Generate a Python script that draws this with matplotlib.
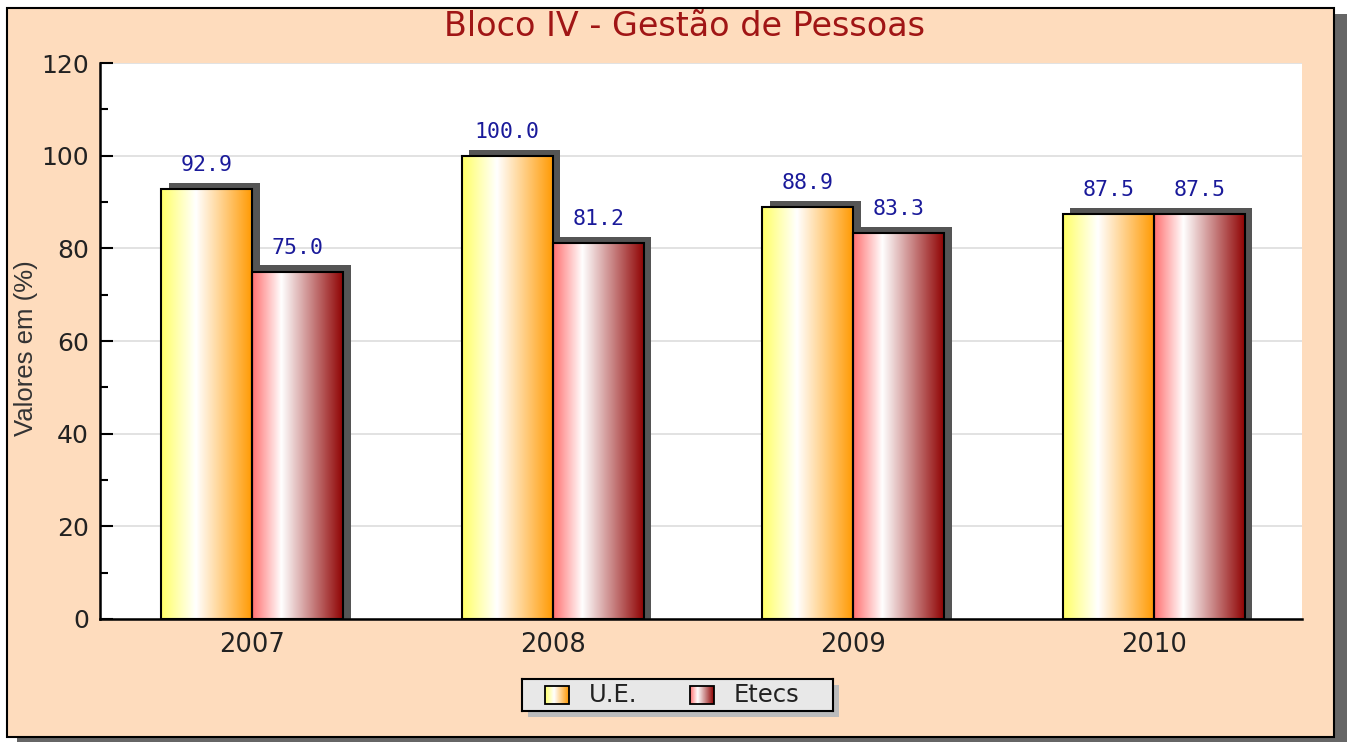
import numpy as np
import matplotlib.pyplot as plt
from matplotlib.patches import Rectangle
from matplotlib.colors import LinearSegmentedColormap

# Datos del gráfico
anos = ['2007', '2008', '2009', '2010']
series = ['U.E.', 'Etecs']
valores_ue = [92.9, 100.0, 88.9, 87.5]
valores_etecs = [75.0, 81.2, 83.3, 87.5]
titulo = 'Bloco IV - Gestão de Pessoas'
etiqueta_y = 'Valores em (%)'

W, H = 1347, 742
fig = plt.figure(figsize=(W / 100, H / 100), dpi=100)
fig.patch.set_facecolor('white')


def px(x, y, w, h):
    # pasar de píxeles (origen arriba-izquierda) a coordenadas de figura
    return (x / W, 1 - (y + h) / H, w / W, h / H)


# Panel de fondo con sombra
x0, y0, w0, h0 = px(17, 14, 1330, 728)
fig.patches.append(Rectangle((x0, y0), w0, h0, transform=fig.transFigure,
                             facecolor='#666666', edgecolor='none', zorder=-3))
x0, y0, w0, h0 = px(7, 8, 1327, 729)
fig.patches.append(Rectangle((x0, y0), w0, h0, transform=fig.transFigure,
                             facecolor='#fedcbd', edgecolor='black', linewidth=1.5, zorder=-2))

fig.text(684 / W, 1 - 27 / H, titulo, ha='center', va='center',
         fontsize=24, color='#a01515', family='DejaVu Sans')

ax = fig.add_axes(px(100, 63, 1202, 556))
ax.set_facecolor('white')

cmap_ue = LinearSegmentedColormap.from_list(
    'ue', [(0, '#ffff66'), (0.38, '#ffffff'), (1, '#ff9900')])
cmap_etecs = LinearSegmentedColormap.from_list(
    'et', [(0, '#ff7070'), (0.32, '#ffffff'), (1, '#8e0000')])
grad = np.linspace(0, 1, 256).reshape(1, -1)

ancho = 0.303
dx, dy = 0.024, 1.3
x = np.arange(len(anos))

for vals, desplaz, cmap in [(valores_ue, -ancho, cmap_ue), (valores_etecs, 0, cmap_etecs)]:
    for xi, v in zip(x, vals):
        izq = xi + desplaz
        # sombra
        ax.add_patch(Rectangle((izq + dx, 0), ancho, v + dy, facecolor='#555555',
                               edgecolor='none', zorder=2))
for vals, desplaz, cmap in [(valores_ue, -ancho, cmap_ue), (valores_etecs, 0, cmap_etecs)]:
    for xi, v in zip(x, vals):
        izq = xi + desplaz
        ax.imshow(grad, cmap=cmap, aspect='auto', extent=(izq, izq + ancho, 0, v),
                  zorder=3, interpolation='bilinear')
        ax.add_patch(Rectangle((izq, 0), ancho, v, facecolor='none',
                               edgecolor='black', linewidth=1.5, zorder=4))
        ax.annotate(f'{v:.1f}', (izq + ancho / 2, v), xytext=(0, 10),
                    textcoords='offset points', ha='center', va='bottom',
                    fontsize=15.5, color='#1a1a9a', family='DejaVu Sans Mono')

ax.set_xlim(-0.507, 3.493)
ax.set_ylim(0, 120)
ax.set_xticks(x)
ax.set_xticklabels(anos)
ax.set_yticks(np.arange(0, 121, 20))
ax.set_yticks(np.arange(10, 120, 20), minor=True)
ax.tick_params(axis='x', length=0, pad=9, labelsize=18.5, colors='#222222')
ax.tick_params(axis='y', which='major', direction='in', length=9, width=1.5,
               pad=8, labelsize=18, labelcolor='#222222')
ax.tick_params(axis='y', which='minor', direction='in', length=6, width=1.5)
ax.grid(axis='y', color='#dddddd', linewidth=1.2, zorder=0)
ax.set_axisbelow(True)
for s in ['top', 'right']:
    ax.spines[s].set_visible(False)
for s in ['left', 'bottom']:
    ax.spines[s].set_linewidth(1.8)
    ax.spines[s].set_zorder(5)

fig.text(26 / W, 1 - 348 / H, etiqueta_y, rotation=90, ha='center', va='center',
         fontsize=18.5, color='#333333', family='Liberation Sans')

# Leyenda
lx, ly, lw, lh = px(528, 685, 311, 32)
fig.patches.append(Rectangle((lx, ly), lw, lh, transform=fig.transFigure,
                             facecolor='#bbbbbb', edgecolor='none', zorder=-1))
leg = fig.add_axes(px(522, 679, 311, 32))
leg.set_facecolor('#e8e8e8')
leg.set_xlim(0, 311)
leg.set_ylim(32, 0)
leg.set_xticks([])
leg.set_yticks([])
for s in leg.spines.values():
    s.set_linewidth(1.5)
for hx, tx, nombre, cmap in [(23, 67, series[0], cmap_ue), (168, 212, series[1], cmap_etecs)]:
    leg.imshow(grad, cmap=cmap, aspect='auto', extent=(hx, hx + 24, 25, 7), zorder=2)
    leg.add_patch(Rectangle((hx, 7), 24, 18, facecolor='none', edgecolor='black',
                            linewidth=1.3, zorder=3))
    leg.text(tx, 16, nombre, ha='left', va='center', fontsize=17.5, color='#222222')

fig.savefig('out.png', dpi=100)
